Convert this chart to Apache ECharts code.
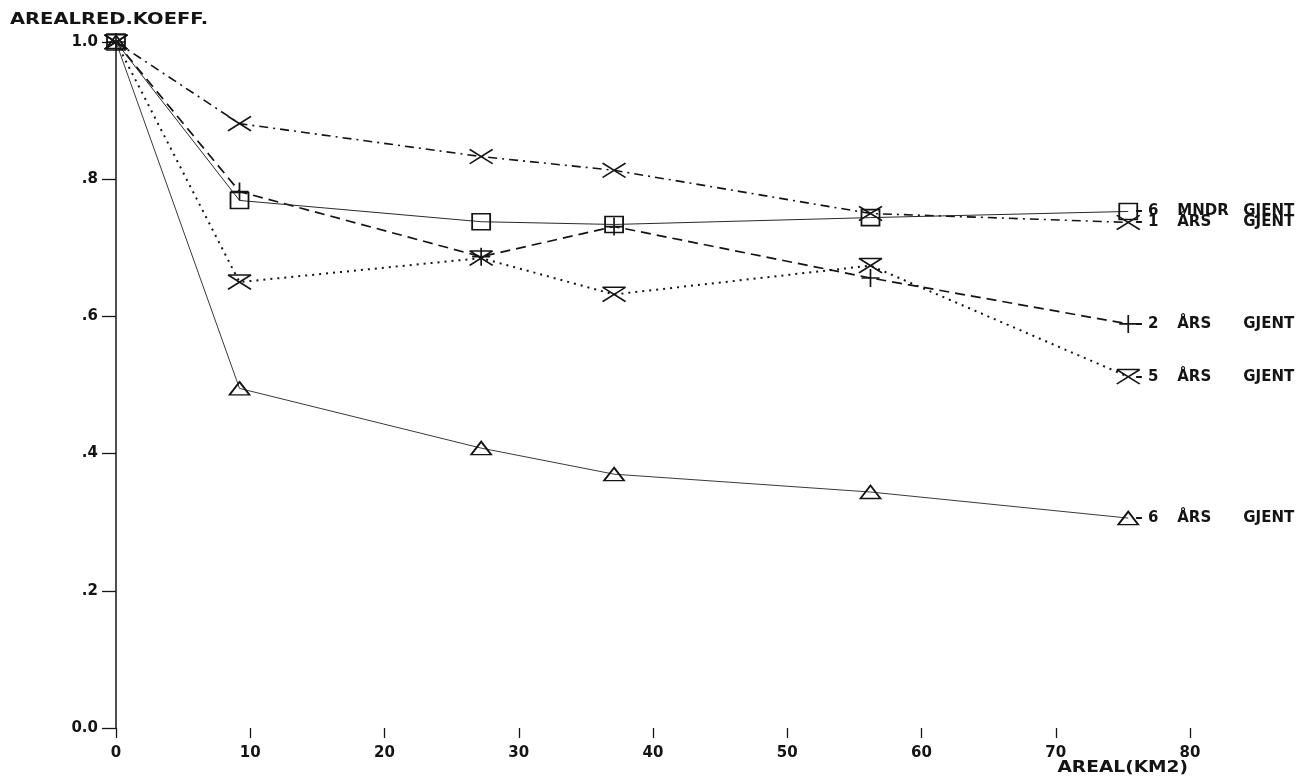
<!DOCTYPE html>
<html>
<head>
<meta charset="utf-8">
<script src="https://cdn.jsdelivr.net/npm/echarts@6/dist/echarts.min.js"></script>
<style>
html,body{margin:0;padding:0;background:#fff;}
#chart{width:1316px;height:778px;}
</style>
</head>
<body>
<div id="chart"></div>
<script>
// ---- data ----
var areal = [0, 9.2, 27.2, 37.1, 56.2, 75.4];
var mndr6 = [1.0, 0.769, 0.738, 0.734, 0.744, 0.753];
var aar1  = [1.0, 0.881, 0.833, 0.813, 0.750, 0.737];
var aar2  = [1.0, 0.782, 0.687, 0.731, 0.656, 0.589];
var aar5  = [1.0, 0.650, 0.685, 0.632, 0.674, 0.512];
var aar6  = [1.0, 0.495, 0.408, 0.370, 0.344, 0.306];
var seriesLabels = [['6', 'MNDR'], ['1', 'ÅRS'], ['2', 'ÅRS'], ['5', 'ÅRS'], ['6', 'ÅRS']];
var yAxisTitle = 'AREALRED.KOEFF.';
var xAxisTitle = 'AREAL(KM2)';

var FONT = 'DejaVu Sans';
var INK = '#141414';
var FS = 15;

function pairs(vals) { return areal.map(function (x, i) { return [x, vals[i]]; }); }

var rich = {
  a: { width: 42, fontFamily: FONT, fontWeight: 'bold', fontSize: FS, color: INK },
  b: { width: 66, fontFamily: FONT, fontWeight: 'bold', fontSize: FS, color: INK },
  c: { fontFamily: FONT, fontWeight: 'bold', fontSize: FS, color: INK }
};
function endLabel(idx) {
  var l = seriesLabels[idx];
  return {
    show: true, distance: 7,
    formatter: '{a|– ' + l[0] + '}{b|' + l[1] + '}{c|GJENT}',
    rich: rich
  };
}

var crossPath = 'path://M0 0 L20 16 M20 0 L0 16';
var plusPath = 'path://M8 0 L8 16 M0 8 L16 8';
var hourPath = 'path://M0 0 L20 0 M0 0 L20 16 M20 0 L0 16';

function mk(name, vals, idx, symbol, size, lineStyle, z) {
  return {
    name: name, type: 'line', data: pairs(vals), z: z,
    symbol: symbol, symbolSize: size, symbolKeepAspect: true,
    showAllSymbol: true,
    itemStyle: { color: 'rgba(0,0,0,0)', borderColor: INK, borderWidth: 1.7 },
    lineStyle: lineStyle,
    endLabel: endLabel(idx),
    emphasis: { disabled: true },
    animation: false
  };
}

var chart = echarts.init(document.getElementById('chart'), null, { renderer: 'canvas' });
chart.setOption({
  backgroundColor: '#fff',
  animation: false,
  grid: { left: 116, right: 126, top: 42, bottom: 50, containLabel: false },
  xAxis: {
    type: 'value', min: 0, max: 80, interval: 10,
    offset: 5,
    axisLine: { show: false },
    axisTick: { show: true, length: 10, lineStyle: { color: INK, width: 1.3 } },
    axisLabel: { margin: 13, fontFamily: FONT, fontWeight: 'bold', fontSize: FS, color: INK },
    splitLine: { show: false }
  },
  yAxis: {
    type: 'value', min: 0, max: 1, interval: 0.2,
    axisLine: { show: true, lineStyle: { color: INK, width: 1.5 } },
    axisTick: { show: true, length: 14, lineStyle: { color: INK, width: 1.3 } },
    axisLabel: {
      margin: 18, fontFamily: FONT, fontWeight: 'bold', fontSize: FS, color: INK,
      formatter: function (v) {
        if (v === 0) return '0.0';
        if (Math.abs(v - 1) < 1e-9) return '1.0';
        return '.' + Math.round(v * 10);
      }
    },
    splitLine: { show: false }
  },
  graphic: [
    { type: 'text', x: 10, y: 13, scaleX: 1.3,
      style: { text: yAxisTitle, fontFamily: FONT, fontWeight: 'bold', fontSize: FS, fill: INK, textAlign: 'left' } },
    { type: 'text', x: 1188, y: 761, scaleX: 1.24,
      style: { text: xAxisTitle, fontFamily: FONT, fontWeight: 'bold', fontSize: FS, fill: INK, textAlign: 'right' } }
  ],
  series: [
    mk('6 MNDR GJENT', mndr6, 0, 'rect', [18, 16], { color: '#2a2a2a', width: 1, type: 'solid' }, 6),
    mk('1 ÅRS GJENT', aar1, 1, crossPath, [23, 18], { color: INK, width: 1.6, type: [9, 5, 2, 5] }, 5),
    mk('2 ÅRS GJENT', aar2, 2, plusPath, [18, 18], { color: INK, width: 1.7, type: [10, 6] }, 4),
    mk('5 ÅRS GJENT', aar5, 3, hourPath, [23, 18], { color: INK, width: 2, type: [2, 5] }, 3),
    mk('6 ÅRS GJENT', aar6, 4, 'triangle', [20, 13], { color: '#3a3a3a', width: 1, type: 'solid' }, 2)
  ]
});
</script>
</body>
</html>
